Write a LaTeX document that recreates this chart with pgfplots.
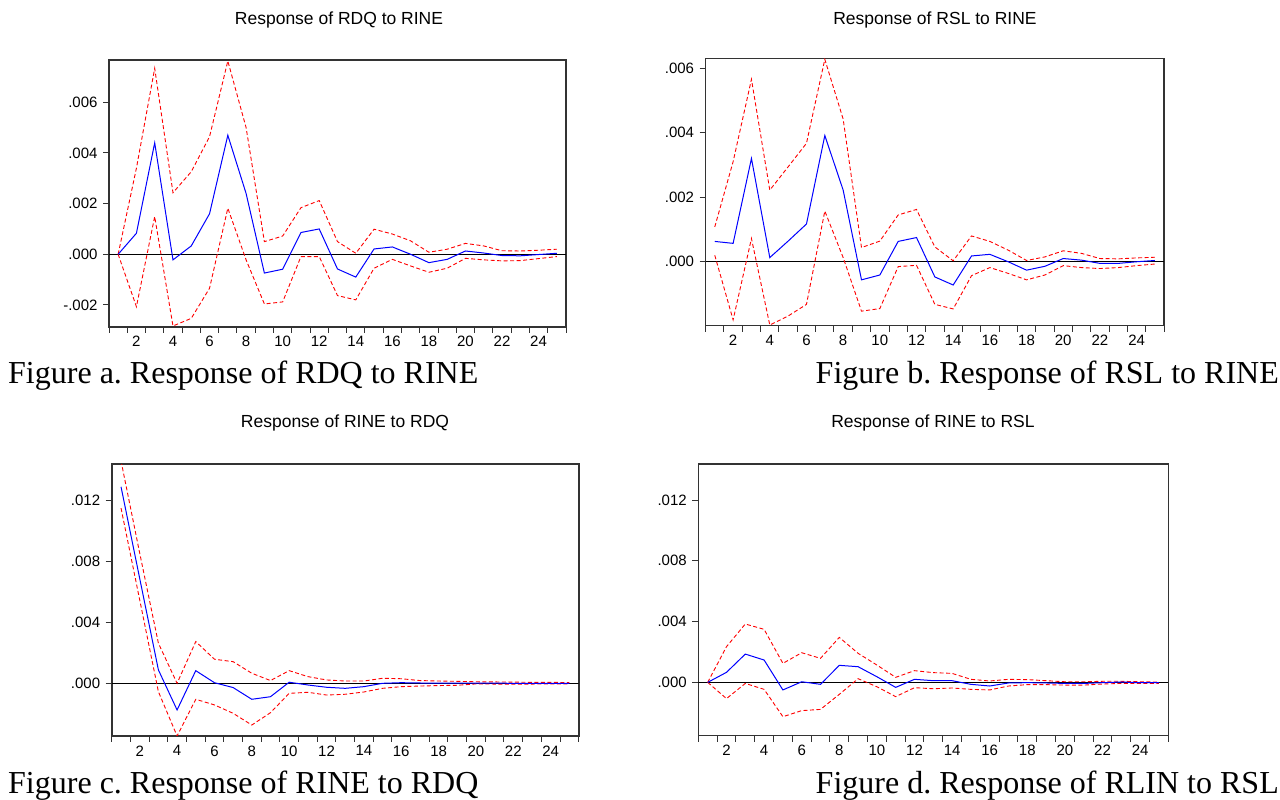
\documentclass[border=0pt]{standalone}
\usepackage{pgfplots}
\pgfplotsset{compat=1.18}
\usepackage{pgfplotstable}
\usepackage{fontspec}
\setmainfont{Liberation Sans}
\newfontfamily\timesfont{Liberation Serif}
\frenchspacing

% impulse responses: t, response, lower band, upper band
\pgfplotstableread{
t irf lo hi
1 0.00000 0.00000 0.00000
2 0.00083 -0.00207 0.00340
3 0.00440 0.00149 0.00734
4 -0.00022 -0.00283 0.00243
5 0.00033 -0.00253 0.00326
6 0.00160 -0.00134 0.00464
7 0.00470 0.00182 0.00763
8 0.00240 -0.00022 0.00500
9 -0.00074 -0.00196 0.00050
10 -0.00059 -0.00188 0.00072
11 0.00086 -0.00009 0.00184
12 0.00100 -0.00009 0.00212
13 -0.00058 -0.00163 0.00050
14 -0.00090 -0.00180 0.00004
15 0.00021 -0.00055 0.00099
16 0.00029 -0.00020 0.00080
17 0.00000 -0.00046 0.00053
18 -0.00033 -0.00071 0.00008
19 -0.00020 -0.00055 0.00020
20 0.00013 -0.00016 0.00043
21 0.00005 -0.00022 0.00033
22 -0.00005 -0.00026 0.00014
23 -0.00006 -0.00025 0.00013
24 -0.00001 -0.00017 0.00016
25 0.00004 -0.00009 0.00020
}\tabA

\pgfplotstableread{
t irf lo hi
1 0.00063 0.00020 0.00108
2 0.00057 -0.00180 0.00310
3 0.00320 0.00072 0.00565
4 0.00013 -0.00196 0.00222
5 0.00064 -0.00168 0.00294
6 0.00117 -0.00132 0.00367
7 0.00391 0.00157 0.00627
8 0.00222 0.00013 0.00442
9 -0.00056 -0.00153 0.00044
10 -0.00041 -0.00145 0.00064
11 0.00063 -0.00015 0.00145
12 0.00075 -0.00011 0.00162
13 -0.00047 -0.00132 0.00046
14 -0.00072 -0.00146 0.00003
15 0.00018 -0.00043 0.00080
16 0.00023 -0.00018 0.00063
17 0.00000 -0.00036 0.00036
18 -0.00026 -0.00056 0.00004
19 -0.00014 -0.00041 0.00015
20 0.00010 -0.00012 0.00034
21 0.00005 -0.00018 0.00026
22 -0.00005 -0.00021 0.00010
23 -0.00005 -0.00018 0.00009
24 0.00000 -0.00012 0.00012
25 0.00004 -0.00007 0.00014
}\tabB

\pgfplotstableread{
t irf lo hi
1 0.01290 0.01150 0.01460
2 0.00688 0.00547 0.00854
3 0.00088 -0.00055 0.00263
4 -0.00175 -0.00346 0.00000
5 0.00083 -0.00105 0.00274
6 0.00004 -0.00142 0.00158
7 -0.00028 -0.00197 0.00142
8 -0.00105 -0.00274 0.00066
9 -0.00088 -0.00193 0.00018
10 0.00007 -0.00066 0.00083
11 -0.00011 -0.00059 0.00044
12 -0.00026 -0.00077 0.00022
13 -0.00033 -0.00072 0.00015
14 -0.00022 -0.00057 0.00015
15 0.00000 -0.00033 0.00033
16 0.00004 -0.00022 0.00030
17 0.00002 -0.00018 0.00018
18 0.00001 -0.00015 0.00015
19 0.00001 -0.00013 0.00013
20 0.00001 -0.00004 0.00010
21 0.00001 -0.00005 0.00009
22 0.00000 -0.00005 0.00008
23 0.00000 -0.00005 0.00006
24 0.00000 -0.00004 0.00006
25 0.00000 -0.00004 0.00005
}\tabC

\pgfplotstableread{
t irf lo hi
1 0.00000 0.00000 0.00000
2 0.00066 -0.00107 0.00235
3 0.00186 -0.00007 0.00384
4 0.00147 -0.00046 0.00349
5 -0.00050 -0.00226 0.00125
6 0.00004 -0.00186 0.00195
7 -0.00013 -0.00178 0.00158
8 0.00112 -0.00079 0.00296
9 0.00103 0.00024 0.00191
10 0.00037 -0.00029 0.00114
11 -0.00033 -0.00094 0.00033
12 0.00020 -0.00035 0.00077
13 0.00011 -0.00042 0.00064
14 0.00011 -0.00037 0.00059
15 -0.00013 -0.00046 0.00020
16 -0.00024 -0.00050 0.00009
17 -0.00004 -0.00024 0.00020
18 -0.00002 -0.00015 0.00018
19 -0.00004 -0.00015 0.00011
20 -0.00007 -0.00018 0.00004
21 -0.00007 -0.00018 0.00004
22 -0.00002 -0.00011 0.00007
23 0.00002 -0.00007 0.00007
24 -0.00002 -0.00007 0.00004
25 -0.00002 -0.00007 0.00002
}\tabD

\pgfplotsset{
  irf/.style={
    scale only axis,
    xmin=0.5, xmax=25.5,
    xtick={0.5,1.5,...,25.5}, xticklabels={},
    extra x ticks={2,4,...,24},
    extra x tick labels={2,4,6,8,10,12,14,16,18,20,22,24},
    extra x tick style={grid=none, tick style={draw=none}},
    tick align=outside, tick pos=left,
    major tick length=6pt,
    tick style={black!80, line width=1pt},
    axis line style={line width=1.6pt, black!80},
    ticklabel style={font=\fontsize{15}{15}\selectfont},
    yticklabel style={xshift=-2pt},
    scaled y ticks=false,
  },
  band/.style={red, line width=0.9pt, dash pattern=on 4pt off 2.5pt},
  resp/.style={blue, line width=1pt},
}

\begin{document}
\begin{tikzpicture}
\useasboundingbox (0,0) rectangle (1280pt,800pt);

% Figure a
\begin{axis}[irf, at={(109pt,473pt)}, anchor=south west, width=457pt, height=267pt,
  ymin=-0.00287, ymax=0.00767,
  ytick={-0.002,0,0.002,0.004,0.006}, yticklabels={-.002,.000,.002,.004,.006}]
  \addplot[black, line width=0.9pt] coordinates {(0.5,0) (25.5,0)};
  \addplot[band] table[x=t,y=hi]{\tabA};
  \addplot[band] table[x=t,y=lo]{\tabA};
  \addplot[resp] table[x=t,y=irf]{\tabA};
\end{axis}

% Figure b
\begin{axis}[irf, at={(705.6pt,474.3pt)}, anchor=south west, width=458.5pt, height=267pt,
  ymin=-0.00198, ymax=0.00629,
  ytick={0,0.002,0.004,0.006}, yticklabels={.000,.002,.004,.006}]
  \addplot[black, line width=0.9pt] coordinates {(0.5,0) (25.5,0)};
  \addplot[band] table[x=t,y=hi]{\tabB};
  \addplot[band] table[x=t,y=lo]{\tabB};
  \addplot[resp] table[x=t,y=irf]{\tabB};
\end{axis}

% Figure c
\begin{axis}[irf, at={(111.7pt,64pt)}, anchor=south west, width=467pt, height=271.7pt,
  ymin=-0.00346, ymax=0.01438,
  ytick={0,0.004,0.008,0.012}, yticklabels={.000,.004,.008,.012}]
  \addplot[black, line width=0.9pt] coordinates {(0.5,0) (25.5,0)};
  \addplot[band] table[x=t,y=hi]{\tabC};
  \addplot[band] table[x=t,y=lo]{\tabC};
  \addplot[resp] table[x=t,y=irf]{\tabC};
\end{axis}

% Figure d
\begin{axis}[irf, at={(698.3pt,64.3pt)}, anchor=south west, width=470pt, height=271.7pt,
  ymin=-0.00351, ymax=0.01437,
  ytick={0,0.004,0.008,0.012}, yticklabels={.000,.004,.008,.012}]
  \addplot[black, line width=0.9pt] coordinates {(0.5,0) (25.5,0)};
  \addplot[band] table[x=t,y=hi]{\tabD};
  \addplot[band] table[x=t,y=lo]{\tabD};
  \addplot[resp] table[x=t,y=irf]{\tabD};
\end{axis}

% panel titles
\begin{scope}[every node/.style={font=\fontsize{17.5}{20}\selectfont}]
  \node at (339pt,780pt) {Response of RDQ to RINE};
  \node at (935pt,780pt) {Response of RSL to RINE};
  \node at (345pt,377pt) {Response of RINE to RDQ};
  \node at (933pt,377pt) {Response of RINE to RSL};
\end{scope}

% captions
\begin{scope}[every node/.style={font=\timesfont\fontsize{32}{36}\selectfont, inner sep=0pt}]
  \node[anchor=base west] at (8pt,416pt) {Figure a. Response of RDQ to RINE};
  \node[anchor=base east] at (1279pt,416pt) {Figure b. Response of RSL to RINE};
  \node[anchor=base west] at (8pt,6pt) {Figure c. Response of RINE to RDQ};
  \node[anchor=base east] at (1279pt,6pt) {Figure d. Response of RLIN to RSL};
\end{scope}
\end{tikzpicture}
\end{document}
